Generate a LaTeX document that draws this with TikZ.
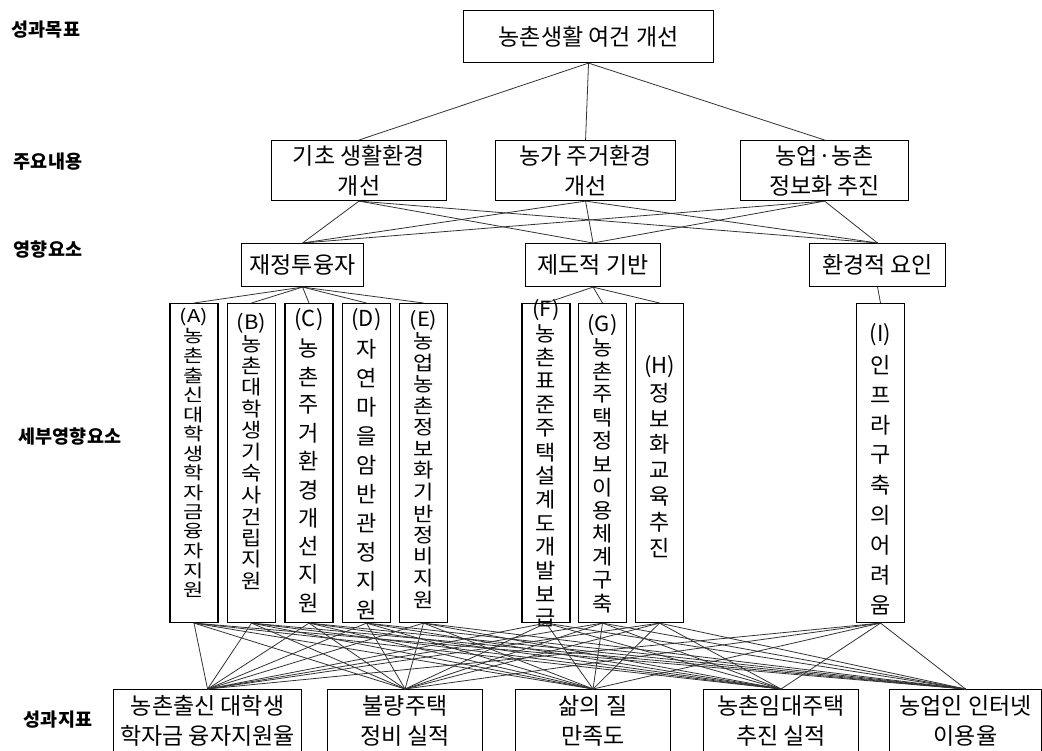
\documentclass[tikz,border=0pt]{standalone}
\usepackage{fontspec}
\usepackage{graphicx}
\setmainfont{Noto Sans CJK KR}
\newcommand\vstack[6]{%
  \foreach \c [count=\i from 0] in {#6} {%
    \node[vch] (#1-\i) at (#2, #3+\i*#4) {\scalebox{1}[#5]{\c}};}}
\begin{document}
\begin{tikzpicture}[x=1pt,y=-1pt,
  box/.style={draw, line width=1.1pt, inner sep=0pt, align=center, anchor=north west,
    font=\fontsize{23}{30}\selectfont},
  vbox/.style={draw, line width=1.1pt, inner sep=0pt, anchor=north, minimum width=48pt, minimum height=319pt},
  vch/.style={inner sep=0pt, font=\fontsize{22}{22}\selectfont},
  conn/.style={draw=black!80, line width=0.8pt},
  lab/.style={inner sep=0pt, font=\bfseries\fontsize{18.5}{20}\selectfont}]
\useasboundingbox[fill=white] (0,0) rectangle (1042,751);

% left labels
\node[lab] (l1) at (46,30) {성과목표};
\node[lab] (l2) at (48,162) {주요내용};
\node[lab] (l3) at (48,250) {영향요소};
\node[lab] (l4) at (70,437) {세부영향요소};
\node[lab] (l5) at (58,720) {성과지표};

% top
\node[box, minimum width=250pt, minimum height=52pt] (top) at (463,10) {농촌생활 여건 개선};

% main contents
\node[box, minimum width=175pt, minimum height=60pt] (m1) at (271,140) {기초 생활환경\\개선};
\node[box, minimum width=180pt, minimum height=60pt] (m2) at (495,140) {농가 주거환경\\개선};
\node[box, minimum width=168pt, minimum height=60pt] (m3) at (740,140) {농업·농촌\\정보화 추진};

% influence factors
\node[box, minimum width=122pt, minimum height=43pt] (f1) at (241,243) {재정투융자};
\node[box, minimum width=135pt, minimum height=43pt] (f2) at (525,243) {제도적 기반};
\node[box, minimum width=136pt, minimum height=43pt] (f3) at (809,243) {환경적 요인};

% detailed factors
\node[vbox] (A) at (194,303) {};
\node[vbox] (B) at (251.5,303) {};
\node[vbox] (C) at (309,303) {};
\node[vbox] (D) at (366.5,303) {};
\node[vbox] (E) at (423.5,303) {};
\node[vbox] (F) at (546,303) {};
\node[vbox] (G) at (602.5,303) {};
\node[vbox] (H) at (659.5,303) {};
\node[vbox] (I) at (880.5,303) {};

\vstack{tA}{194}{317}{19.5}{0.8}{(A),농,촌,출,신,대,학,생,학,자,금,융,자,지,원}
\vstack{tB}{251.5}{323}{21.5}{0.9}{(B),농,촌,대,학,생,기,숙,사,건,립,지,원}
\vstack{tC}{309}{320}{28.3}{1}{(C),농,촌,주,거,환,경,개,선,지,원}
\vstack{tD}{366.5}{320}{29}{1}{(D),자,연,마,을,암,반,관,정,지,원}
\vstack{tE}{423.5}{320}{21.5}{0.9}{(E),농,업,농,촌,정,보,화,기,반,정,비,지,원}
\vstack{tF}{546}{310}{23.7}{0.95}{(F),농,촌,표,준,주,택,설,계,도,개,발,보,급}
\vstack{tG}{602.5}{325}{23.2}{0.95}{(G),농,촌,주,택,정,보,이,용,체,계,구,축}
\vstack{tH}{659.5}{367}{25.9}{1}{(H),정,보,화,교,육,추,진}
\vstack{tI}{880.5}{335}{30}{1}{(I),인,프,라,구,축,의,어,려,움}

% performance indicators
\node[box, minimum width=188pt, minimum height=62pt] (b1) at (113,689) {농촌출신 대학생\\학자금 융자지원율};
\node[box, minimum width=155pt, minimum height=62pt] (b2) at (327,689) {불량주택\\정비 실적};
\node[box, minimum width=155pt, minimum height=62pt] (b3) at (515,689) {삶의 질\\만족도};
\node[box, minimum width=155pt, minimum height=62pt] (b4) at (703,689) {농촌임대주택\\추진 실적};
\node[box, minimum width=152pt, minimum height=62pt] (b5) at (889,689) {농업인 인터넷\\이용율};

% connectors
\foreach \m in {m1,m2,m3} \draw[conn] (top.south) -- (\m.north);
\foreach \m in {m1,m2,m3} \foreach \f in {f1,f2,f3} \draw[conn] (\m.south) -- (\f.north);
\foreach \s in {A,B,C,D,E} \draw[conn] (f1.south) -- (\s.north);
\foreach \s in {F,G,H} \draw[conn] (f2.south) -- (\s.north);
\draw[conn] (f3.south) -- (I.north);
\foreach \s in {A,B,C,D,E,F,G,H,I} \foreach \b in {b1,b2,b3,b4,b5} \draw[conn] (\s.south) -- (\b.north);
\end{tikzpicture}
\end{document}
